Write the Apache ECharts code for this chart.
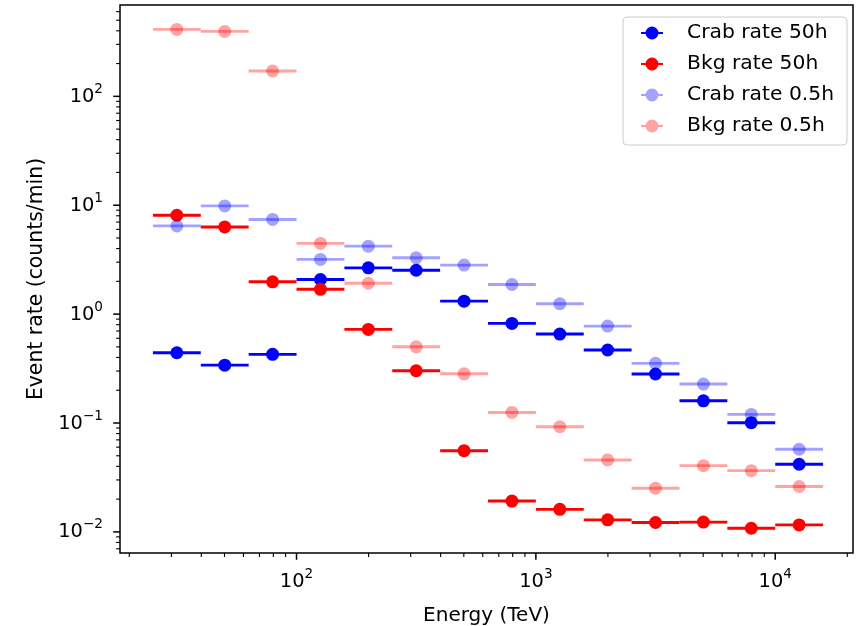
<!DOCTYPE html>
<html>
<head>
<meta charset="utf-8">
<script src="https://cdn.jsdelivr.net/npm/echarts@6/dist/echarts.min.js"></script>
<style>
html,body{margin:0;padding:0;background:#fff;}
#chart{width:858px;height:626px;}
</style>
</head>
<body>
<div id="chart"></div>
<script>
// ---- data ----
const binEdges   = [25.12, 39.81, 63.10, 100, 158.5, 251.2, 398.1, 631.0, 1000, 1585, 2512, 3981, 6310, 10000, 15849];
const binCenters = [31.62, 50.12, 79.43, 125.9, 199.5, 316.2, 501.2, 794.3, 1259, 1995, 3162, 5012, 7943, 12589];
const crab50h = [0.442, 0.340, 0.427, 2.08, 2.66, 2.53, 1.315, 0.822, 0.656, 0.468, 0.282, 0.160, 0.1007, 0.0418];
const bkg50h  = [8.09, 6.32, 1.98, 1.69, 0.724, 0.302, 0.0557, 0.0192, 0.0161, 0.0129, 0.0122, 0.0123, 0.0108, 0.0116];
const crab05h = [6.46, 9.86, 7.40, 3.18, 4.21, 3.29, 2.82, 1.87, 1.245, 0.776, 0.353, 0.228, 0.120, 0.0574];
const bkg05h  = [412, 395, 171, 4.46, 1.92, 0.501, 0.283, 0.125, 0.0925, 0.0458, 0.0252, 0.0406, 0.0365, 0.0261];
const seriesNames = ['Crab rate 50h', 'Bkg rate 50h', 'Crab rate 0.5h', 'Bkg rate 0.5h'];
const xMajorTicks = [100, 1000, 10000];
const xMinorTicks = [20, 30, 40, 50, 60, 70, 80, 90, 200, 300, 400, 500, 600, 700, 800, 900,
                     2000, 3000, 4000, 5000, 6000, 7000, 8000, 9000, 20000];
const yMajorTicks = [0.01, 0.1, 1, 10, 100];
const yMinorTicks = [0.007, 0.008, 0.009, 0.02, 0.03, 0.04, 0.05, 0.06, 0.07, 0.08, 0.09,
                     0.2, 0.3, 0.4, 0.5, 0.6, 0.7, 0.8, 0.9, 2, 3, 4, 5, 6, 7, 8, 9,
                     20, 30, 40, 50, 60, 70, 80, 90, 200, 300, 400, 500, 600];
const X_MIN = 18.3, X_MAX = 21135, Y_MIN = 0.0064, Y_MAX = 690;

// ---- styles ----
const colors = ['#0000ff', '#ff0000', 'rgba(0,0,255,0.36)', 'rgba(255,0,0,0.36)'];
const FONT = 'DejaVu Sans';
const ICON = 'path://M0,5.5 L22,5.5 L22,7.5 L0,7.5 Z M4.5,6.5 A6.5,6.5 0 1 1 17.5,6.5 A6.5,6.5 0 1 1 4.5,6.5 Z';

function barRenderer(color) {
  return function (params, api) {
    const y = api.value(1);
    const p = api.coord([api.value(0), y]);
    const a = api.coord([api.value(2), y]);
    const b = api.coord([api.value(3), y]);
    return {
      type: 'group',
      children: [
        { type: 'line', shape: { x1: a[0], y1: a[1], x2: b[0], y2: b[1] },
          style: { stroke: color, lineWidth: 2.9 } },
        { type: 'circle', shape: { cx: p[0], cy: p[1], r: 6.5 },
          style: { fill: color } }
      ]
    };
  };
}

function makeSeries(name, vals, color) {
  return {
    name: name,
    type: 'custom',
    renderItem: barRenderer(color),
    itemStyle: { color: color },
    encode: { x: 0, y: 1 },
    data: binCenters.map((c, i) => [c, vals[i], binEdges[i], binEdges[i + 1]]),
    clip: false,
    silent: true
  };
}

const tickData = []
  .concat(xMajorTicks.map(v => [v, Y_MIN, 0, 1]))
  .concat(xMinorTicks.map(v => [v, Y_MIN, 0, 0]))
  .concat(yMajorTicks.map(v => [X_MIN, v, 1, 1]))
  .concat(yMinorTicks.map(v => [X_MIN, v, 1, 0]));

const tickSeries = {
  name: 'ticks',
  type: 'custom',
  silent: true,
  clip: false,
  encode: { x: 0, y: 1 },
  data: tickData,
  renderItem: function (params, api) {
    const axis = api.value(2), major = api.value(3);
    const len = major ? 6.8 : 3.9;
    const lw = major ? 1.5 : 1.1;
    let shape;
    if (axis === 0) {
      const p = api.coord([api.value(0), Y_MIN]);
      shape = { x1: p[0], y1: p[1], x2: p[0], y2: p[1] + len };
    } else {
      const p = api.coord([X_MIN, api.value(1)]);
      shape = { x1: p[0] - len, y1: p[1], x2: p[0], y2: p[1] };
    }
    return { type: 'line', shape: shape, style: { stroke: '#000', lineWidth: lw } };
  }
};

function powLabel(v) {
  const l = Math.log10(v);
  const r = Math.round(l);
  if (Math.abs(l - r) > 1e-6) return '';
  const e = r < 0 ? '\u2212' + (-r) : String(r);
  return '{b|10}{s|' + e + '}';
}
const labelRich = {
  b: { fontFamily: FONT, fontSize: 19.4, color: '#000', lineHeight: 20, verticalAlign: 'bottom' },
  s: { fontFamily: FONT, fontSize: 13.6, color: '#000', lineHeight: 14, padding: [0, 0, 10, 0], verticalAlign: 'bottom' }
};

const chart = echarts.init(document.getElementById('chart'), null, { renderer: 'canvas' });
chart.setOption({
  animation: false,
  backgroundColor: '#ffffff',
  grid: { left: 120, right: 5, top: 5, bottom: 73, containLabel: false, outerBoundsMode: 'none',
          show: true, borderColor: '#000', borderWidth: 1.5, backgroundColor: 'transparent' },
  xAxis: {
    type: 'log', logBase: 10, min: X_MIN, max: X_MAX,
    name: 'Energy (TeV)', nameLocation: 'middle', nameGap: 53,
    nameTextStyle: { fontFamily: FONT, fontSize: 20, color: '#000' },
    axisLine: { show: false }, axisTick: { show: false }, splitLine: { show: false },
    axisLabel: { formatter: powLabel, rich: labelRich, margin: 18, showMinLabel: true, showMaxLabel: true, interval: 0 }
  },
  yAxis: {
    type: 'log', logBase: 10, min: Y_MIN, max: Y_MAX,
    name: 'Event rate (counts/min)', nameLocation: 'middle', nameGap: 73,
    nameTextStyle: { fontFamily: FONT, fontSize: 20.4, color: '#000' },
    axisLine: { show: false }, axisTick: { show: false }, splitLine: { show: false },
    axisLabel: { formatter: powLabel, rich: labelRich, margin: 17, interval: 0 }
  },
  legend: {
    orient: 'vertical', right: 11, top: 17,
    padding: [6, 13, 9, 18],
    itemWidth: 60, itemHeight: 13, itemGap: 11,
    backgroundColor: 'rgba(255,255,255,0.8)', borderColor: '#cccccc', borderWidth: 1, borderRadius: 4,
    textStyle: { fontFamily: FONT, fontSize: 20.3, color: '#000', lineHeight: 20 },
    selectedMode: false,
    data: seriesNames.map(n => ({ name: n, icon: ICON }))
  },
  series: [
    tickSeries,
    makeSeries(seriesNames[0], crab50h, colors[0]),
    makeSeries(seriesNames[1], bkg50h, colors[1]),
    makeSeries(seriesNames[2], crab05h, colors[2]),
    makeSeries(seriesNames[3], bkg05h, colors[3])
  ]
});
</script>
</body>
</html>
